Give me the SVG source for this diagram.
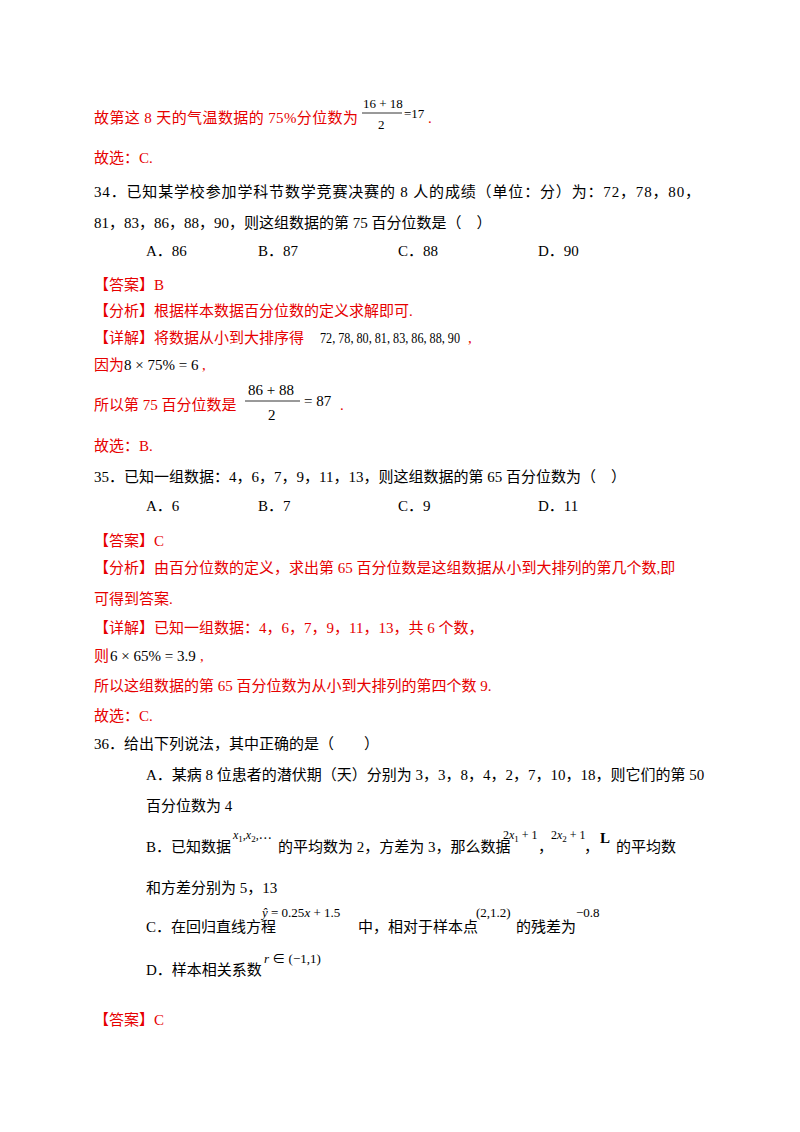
<svg xmlns="http://www.w3.org/2000/svg" width="800" height="1132" viewBox="0 0 800 1132">
<style>
text{font-family:"Liberation Serif","Noto Sans CJK SC",serif;font-size:15px;fill:#000}
.r{fill:#e60000}
.m{font-size:13px}
.s{font-size:12px}
.b{font-size:9px}
</style>
<rect width="800" height="1132" fill="#fff"/>
<text x="94" y="123" class="r" textLength="264" lengthAdjust="spacing">故第这 8 天的气温数据的 75%分位数为</text>
<text x="363" y="108" class="m">16 + 18</text>
<line x1="362" y1="113" x2="402" y2="113" stroke="#000" stroke-width="0.8"/>
<text x="378" y="129" class="m">2</text>
<text x="404" y="118" class="m">=17</text>
<text x="428" y="123" class="r">.</text>
<text x="94" y="163" class="r">故选：C.</text>
<text x="94" y="197" textLength="606" lengthAdjust="spacing">34．已知某学校参加学科节数学竞赛决赛的 8 人的成绩（单位：分）为：72，78，80，</text>
<text x="94" y="228">81，83，86，88，90，则这组数据的第 75 百分位数是（　）</text>
<text x="146" y="256">A．86</text><text x="258" y="256">B．87</text><text x="398" y="256">C．88</text><text x="538" y="256">D．90</text>
<text x="94" y="290" class="r">【答案】B</text>
<text x="94" y="316" class="r">【分析】根据样本数据百分位数的定义求解即可.</text>
<text x="94" y="343" class="r">【详解】将数据从小到大排序得</text>
<text x="320" y="343" textLength="140" lengthAdjust="spacingAndGlyphs">72, 78, 80, 81, 83, 86, 88, 90</text>
<text x="468" y="343" class="r">,</text>
<text x="94" y="370" class="r">因为</text><text x="124" y="370">8 × 75% = 6</text><text x="202" y="370" class="r">,</text>
<text x="94" y="410" class="r">所以第 75 百分位数是</text>
<text x="248" y="395">86 + 88</text>
<line x1="245" y1="401" x2="300" y2="401" stroke="#000" stroke-width="0.8"/>
<text x="268" y="420">2</text>
<text x="304" y="406">= 87</text>
<text x="340" y="410" class="r">.</text>
<text x="94" y="451" class="r">故选：B.</text>
<text x="94" y="482">35．已知一组数据：4，6，7，9，11，13，则这组数据的第 65 百分位数为（　）</text>
<text x="146" y="511">A．6</text><text x="258" y="511">B．7</text><text x="398" y="511">C．9</text><text x="538" y="511">D．11</text>
<text x="94" y="546" class="r">【答案】C</text>
<text x="94" y="573" class="r">【分析】由百分位数的定义，求出第 65 百分位数是这组数据从小到大排列的第几个数,即</text>
<text x="94" y="604" class="r">可得到答案.</text>
<text x="94" y="633" class="r">【详解】已知一组数据：4，6，7，9，11，13，共 6 个数，</text>
<text x="94" y="661" class="r">则</text><text x="110" y="661">6 × 65% = 3.9</text><text x="200" y="661" class="r">,</text>
<text x="94" y="691" class="r">所以这组数据的第 65 百分位数为从小到大排列的第四个数 9.</text>
<text x="94" y="721" class="r">故选：C.</text>
<text x="94" y="749">36．给出下列说法，其中正确的是（　　）</text>
<text x="146" y="780">A．某病 8 位患者的潜伏期（天）分别为 3，3，8，4，2，7，10，18，则它们的第 50</text>
<text x="146" y="811">百分位数为 4</text>
<text x="146" y="852">B．已知数据</text>
<text x="233" y="839" class="s" font-style="italic">x<tspan class="b" dy="3" font-style="normal">1</tspan><tspan dy="-3" font-style="normal">,</tspan>x<tspan class="b" dy="3" font-style="normal">2</tspan><tspan dy="-3" font-style="normal">,⋯</tspan></text>
<text x="278" y="852">的平均数为 2，方差为 3，那么数据</text>
<text x="503" y="839" class="s">2<tspan font-style="italic">x</tspan><tspan class="b" dy="3">1</tspan><tspan dy="-3"> + 1</tspan></text>
<text x="538" y="852">，</text>
<text x="551" y="839" class="s">2<tspan font-style="italic">x</tspan><tspan class="b" dy="3">2</tspan><tspan dy="-3"> + 1</tspan></text>
<text x="584" y="852">，</text>
<text x="600" y="843" font-family="Liberation Sans,sans-serif" font-size="10" font-weight="bold">L</text>
<text x="616" y="852">的平均数</text>
<text x="146" y="893">和方差分别为 5，13</text>
<text x="146" y="932">C．在回归直线方程</text>
<text x="262" y="917" class="m"><tspan font-style="italic">ŷ</tspan> = 0.25<tspan font-style="italic">x</tspan> + 1.5</text>
<text x="358" y="932">中，相对于样本点</text>
<text x="476" y="917" class="m">(2,1.2)</text>
<text x="516" y="932">的残差为</text>
<text x="576" y="917" class="m">−0.8</text>
<text x="146" y="975">D．样本相关系数</text>
<text x="264" y="963" class="m"><tspan font-style="italic">r</tspan> ∈ (−1,1)</text>
<text x="94" y="1025" class="r">【答案】C</text>
</svg>
